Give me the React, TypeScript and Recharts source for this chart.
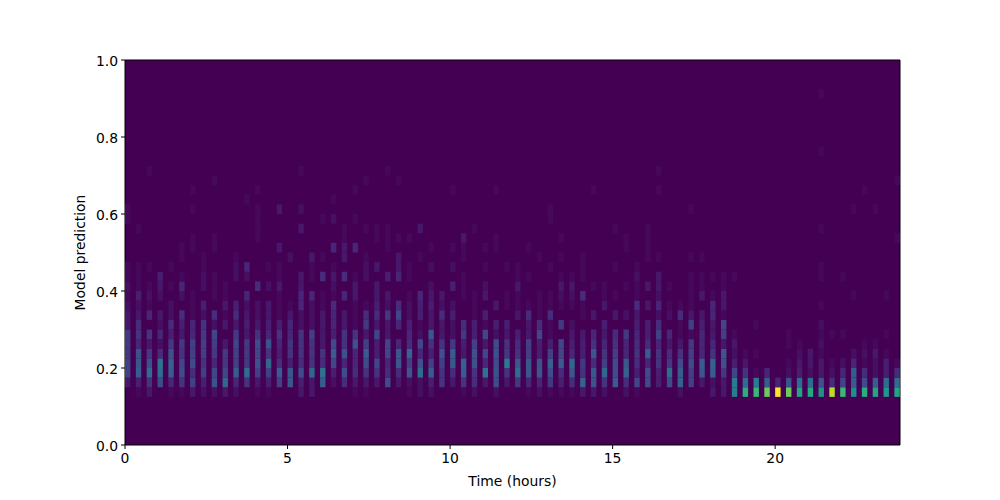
import React from 'react';
import { ScatterChart, Scatter, XAxis, YAxis, CartesianGrid, ReferenceArea } from 'recharts';

const FONT = '"DejaVu Sans", sans-serif';

const xTicks = [0, 5, 10, 15, 20];
const yTicks = [0, 0.2, 0.4, 0.6, 0.8, 1.0];
const xMax = 23.84;
const stepHours = 1 / 3;
const binHeight = 0.025;
const firstBin = 5; // lowest histogram row with anything in it (0.125)
const maxCount = 48;

// one line per time step, counts per prediction bin going up from firstBin
const counts: number[][] = [
  [0, 3, 9, 9, 8, 8, 8, 3, 3, 2, 1, 2, 1, 1, 0, 0, 0, 0, 1, 1],
  [1, 4, 14, 13, 12, 5, 7, 6, 3, 2, 4, 1, 1, 1, 0, 0, 0, 1],
  [3, 7, 17, 12, 8, 3, 7, 0, 5, 1, 2, 1, 0, 1, 0, 0, 0, 0, 0, 0, 0, 0, 0, 1],
  [0, 11, 17, 18, 6, 2, 5, 2, 3, 0, 2, 3, 4],
  [1, 5, 14, 15, 12, 8, 4, 6, 2, 2, 0, 1, 0, 1],
  [1, 7, 11, 10, 7, 8, 3, 4, 6, 0, 2, 5, 1, 0, 1, 1],
  [3, 9, 6, 11, 9, 9, 5, 5, 1, 1, 1, 0, 0, 0, 0, 1, 1, 0, 0, 1, 0, 1],
  [2, 4, 9, 7, 9, 9, 8, 7, 2, 4, 0, 2, 2, 1, 1],
  [2, 12, 10, 5, 8, 9, 10, 2, 6, 0, 1, 1, 1, 0, 0, 1, 1, 0, 0, 0, 0, 0, 1],
  [3, 16, 10, 8, 8, 3, 0, 3, 1, 3, 1, 1],
  [2, 5, 14, 9, 9, 10, 8, 3, 6, 4, 0, 0, 2, 2, 1],
  [0, 7, 17, 8, 8, 8, 3, 4, 3, 2, 5, 0, 2, 5, 0, 0, 0, 0, 0, 0, 1],
  [1, 3, 9, 12, 10, 11, 7, 3, 2, 2, 0, 6, 0, 0, 0, 0, 1, 1, 1, 1, 0, 1],
  [1, 4, 9, 16, 7, 12, 5, 4, 3, 3, 0, 2, 0, 1],
  [0, 9, 14, 6, 4, 5, 7, 4, 1, 1, 1, 3, 1, 1, 0, 3, 0, 0, 0, 3],
  [0, 13, 13, 4, 7, 7, 5, 5, 3, 1, 0, 0, 0, 0, 2],
  [3, 4, 11, 6, 7, 7, 7, 2, 2, 5, 5, 3, 3, 0, 0, 0, 0, 3, 0, 2, 0, 0, 0, 1],
  [3, 3, 16, 7, 7, 7, 9, 2, 2, 2, 5, 0, 1, 1, 3],
  [0, 14, 18, 6, 7, 3, 3, 3, 3, 1, 1, 0, 6, 0, 1, 0, 0, 0, 1],
  [0, 2, 4, 10, 14, 11, 4, 5, 5, 6, 1, 2, 3, 1, 0, 5, 0, 0, 2, 0, 1],
  [0, 6, 11, 5, 12, 7, 7, 3, 3, 0, 5, 0, 6, 0, 3, 3, 1, 1],
  [1, 3, 6, 5, 5, 12, 7, 1, 1, 1, 3, 3, 1, 0, 0, 5, 0, 0, 1, 0, 0, 1],
  [1, 3, 7, 11, 14, 9, 3, 8, 6, 1, 0, 0, 2, 2, 1, 0, 0, 1, 0, 0, 0, 0, 1],
  [0, 3, 7, 10, 4, 4, 10, 3, 6, 4, 3, 3, 0, 3, 0, 0, 1, 1],
  [0, 11, 6, 5, 10, 10, 3, 3, 8, 2, 3, 0, 4, 0, 0, 1, 1, 1, 0, 0, 0, 0, 0, 1],
  [0, 3, 6, 13, 13, 5, 0, 5, 10, 6, 0, 0, 5, 3, 3, 0, 1, 0, 0, 0, 0, 0, 1],
  [1, 2, 13, 9, 16, 6, 5, 4, 2, 2, 1, 0, 1, 1, 0, 0, 1],
  [2, 2, 17, 12, 5, 10, 2, 1, 4, 4, 5, 0, 0, 0, 1, 0, 0, 3],
  [2, 4, 14, 9, 4, 7, 13, 3, 3, 4, 3, 2, 0, 2, 0, 1],
  [0, 7, 7, 9, 12, 7, 3, 3, 6, 2, 3],
  [0, 3, 6, 13, 14, 8, 2, 2, 4, 2, 0, 4, 0, 2, 0, 1, 0, 0, 0, 0, 0, 1],
  [1, 7, 14, 15, 3, 4, 8, 6, 0, 0, 1, 1, 1, 0, 1, 1, 3],
  [2, 6, 7, 12, 12, 9, 4, 4, 1, 1, 1, 0, 0, 0, 0, 0, 0, 1],
  [0, 3, 18, 5, 10, 3, 10, 1, 4, 0, 3, 2, 0, 1, 0, 1],
  [2, 11, 12, 11, 12, 11, 2, 4, 0, 3, 0, 0, 0, 0, 0, 1, 1, 0, 0, 0, 0, 1],
  [0, 3, 7, 20, 8, 7, 3, 4, 0, 1, 1, 0, 0, 1],
  [0, 8, 17, 13, 7, 6, 4, 0, 3, 1, 1, 3, 1, 1],
  [1, 5, 13, 13, 9, 9, 3, 3, 6, 1, 0, 0, 1, 0, 0, 1],
  [2, 5, 13, 12, 4, 4, 10, 6, 1, 1, 1, 0, 0, 0, 1],
  [1, 8, 11, 15, 9, 4, 1, 1, 6, 1, 1, 0, 0, 1, 0, 0, 0, 0, 1, 1],
  [1, 4, 6, 14, 10, 10, 0, 8, 0, 1, 2, 3, 1, 0, 1, 0, 1],
  [1, 6, 13, 16, 5, 4, 3, 2, 0, 1, 2, 3, 1],
  [3, 15, 7, 8, 4, 4, 3, 0, 1, 1, 6, 0, 1, 1, 1],
  [3, 12, 13, 6, 13, 7, 5, 0, 3, 0, 0, 1, 0, 0, 0, 0, 0, 0, 0, 0, 0, 1],
  [2, 7, 16, 9, 7, 5, 3, 4, 0, 3, 1, 1],
  [0, 14, 11, 11, 9, 7, 6, 0, 3, 0, 1, 0, 0, 1, 0, 0, 0, 1],
  [2, 6, 15, 13, 5, 5, 8, 0, 2, 0, 0, 1, 0, 0, 0, 1, 1],
  [1, 10, 4, 6, 7, 6, 5, 4, 3, 6, 1, 1, 2, 1],
  [0, 11, 11, 5, 14, 6, 4, 4, 0, 3, 0, 3, 0, 0, 1, 1, 1, 1],
  [0, 4, 4, 7, 7, 5, 9, 6, 2, 5, 2, 3, 3, 0, 1, 0, 0, 0, 0, 0, 0, 1, 0, 1],
  [0, 11, 17, 8, 6, 3, 5, 0, 2, 1, 0, 1],
  [2, 15, 14, 11, 7, 3, 1, 1, 6, 1],
  [0, 9, 9, 11, 9, 8, 1, 9, 3, 1, 1, 1, 1, 0, 1, 0, 0, 0, 0, 1],
  [0, 3, 13, 14, 5, 5, 5, 4, 3, 0, 3, 1, 1, 0, 1],
  [3, 2, 14, 15, 7, 5, 3, 3, 5, 5, 1, 0, 1],
  [3, 3, 8, 12, 13, 3, 9, 10, 1, 3, 3, 1, 1],
  [20, 20, 10, 4, 2, 3, 1, 0, 0, 0, 0, 0, 1],
  [30, 17, 7, 3, 1],
  [32, 20, 1, 0, 1, 0, 0, 1],
  [37, 14, 5],
  [48, 5],
  [37, 12, 2, 1, 0, 1, 1],
  [28, 17, 4, 3, 2, 1],
  [29, 17, 2, 3, 3],
  [24, 12, 3, 3, 1, 2, 1, 2, 0, 1, 0, 0, 1, 1, 0, 0, 0, 1, 0, 0, 0, 0, 0, 0, 0, 1, 0, 0, 0, 0, 0, 1],
  [43, 6, 2, 1, 0, 0, 1],
  [32, 10, 5, 2, 0, 0, 1, 0, 0, 0, 0, 0, 1],
  [23, 14, 14, 5, 2, 0, 0, 0, 0, 0, 1, 0, 0, 0, 0, 0, 0, 0, 0, 1],
  [30, 11, 6, 1, 2, 1, 0, 0, 0, 0, 0, 0, 0, 0, 0, 0, 0, 0, 0, 0, 0, 1],
  [28, 14, 2, 2, 3, 1, 0, 0, 0, 0, 0, 0, 0, 0, 0, 0, 0, 0, 0, 1],
  [25, 17, 4, 4, 1, 0, 1, 0, 0, 0, 1],
  [28, 17, 6, 1, 0, 0, 0, 0, 0, 0, 0, 0, 0, 0, 0, 0, 1, 0, 0, 0, 0, 0, 1],
];

const viridis = [
  [68, 1, 84], [72, 36, 117], [65, 68, 135], [53, 95, 141], [42, 120, 142], [33, 145, 140],
  [34, 168, 132], [68, 191, 112], [122, 209, 81], [189, 223, 38], [253, 231, 37],
];

const colorFor = (count: number) => {
  const pos = (count / maxCount) * (viridis.length - 1);
  const i = Math.min(Math.floor(pos), viridis.length - 2);
  const f = pos - i;
  const c = viridis[i].map((v, k) => Math.round(v + (viridis[i + 1][k] - v) * f));
  return `rgb(${c[0]},${c[1]},${c[2]})`;
};

const plotWidth = 775;
const plotHeight = 385;
const cellWidth = (plotWidth / xMax) * (stepHours / 2);
const cellHeight = plotHeight * binHeight;

const cells = counts.flatMap((column, step) =>
  column.flatMap((count, row) =>
    count > 0
      ? [{ x: step * stepHours + stepHours / 4, y: (firstBin + row + 0.5) * binHeight, count }]
      : []
  )
);

const HistCell = ({ cx, cy, payload }: any) => (
  <rect
    x={cx - cellWidth / 2}
    y={cy - cellHeight / 2}
    width={cellWidth}
    height={cellHeight}
    fill={colorFor(payload.count)}
  />
);

const tickStyle = { fontSize: 13.9, fontFamily: FONT, fill: '#000' };
const tickLine = { stroke: '#000', strokeWidth: 1 };

export default function App() {
  return (
    <div style={{ position: 'absolute', left: 0, top: 0, width: 1000, height: 500, background: '#fff' }}>
      <ScatterChart width={1000} height={500} margin={{ top: 60, right: 100, bottom: 5, left: 65 }}>
        <CartesianGrid horizontal={false} vertical={false} fill="#440154" />
        <XAxis
          type="number"
          dataKey="x"
          domain={[0, xMax]}
          ticks={xTicks}
          height={50}
          interval={0}
          tick={{ ...tickStyle, dy: 1 }}
          tickSize={4}
          tickMargin={3}
          axisLine={false}
          tickLine={tickLine}
          label={{ value: 'Time (hours)', position: 'insideBottom', offset: 9, style: { ...tickStyle, textAnchor: 'middle' } }}
        />
        <YAxis
          type="number"
          dataKey="y"
          domain={[0, 1]}
          ticks={yTicks}
          width={60}
          interval={0}
          tick={{ ...tickStyle, dy: 1 }}
          tickSize={4}
          tickMargin={3}
          tickFormatter={(v: number) => v.toFixed(1)}
          axisLine={false}
          tickLine={tickLine}
          label={{ value: 'Model prediction', angle: -90, position: 'insideLeft', offset: 15, style: { ...tickStyle, textAnchor: 'middle' } }}
        />
        <Scatter data={cells} shape={HistCell} isAnimationActive={false} />
        <ReferenceArea x1={0} x2={xMax} y1={0} y2={1} fill="none" stroke="#000" strokeWidth={1} />
      </ScatterChart>
    </div>
  );
}
